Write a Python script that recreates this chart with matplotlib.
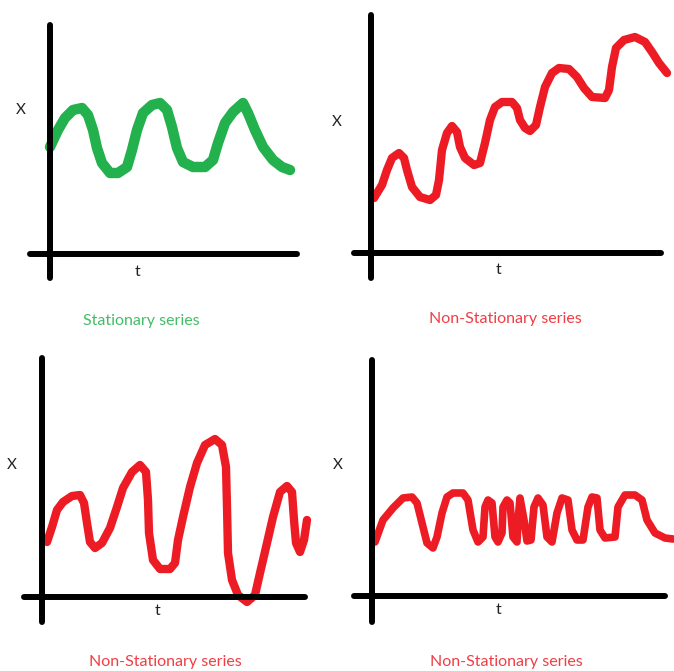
import numpy as np
import matplotlib
matplotlib.use("Agg")
import matplotlib.pyplot as plt

# hand-drawn sketches: t = time, v = value (1 unit ~ 1 px)
t_stat = [0, 8, 15, 23, 32, 38, 43, 47, 52, 60, 68, 77, 82, 87, 93, 102, 110, 117,
          122, 127, 133, 143, 155, 163, 168, 175, 183, 193, 198, 205, 213, 223,
          232, 240]
v_stat = [107, 124, 136, 144, 146, 139, 124, 106, 91, 81, 81, 87, 104, 124, 141,
          149, 151, 144, 127, 106, 92, 87, 87, 94, 111, 131, 142, 151, 141, 124,
          107, 94, 87, 84]

t_trend = [3, 11, 16, 21, 28, 33, 36, 41, 49, 59, 65, 68, 71, 76, 81, 86, 89, 94,
           103, 109, 114, 119, 124, 131, 141, 146, 149, 154, 159, 165, 169, 174,
           181, 188, 198, 206, 213, 221, 234, 238, 241, 245, 253, 264, 274, 281,
           288, 296]
v_trend = [55, 68, 83, 95, 100, 95, 83, 66, 56, 53, 58, 73, 103, 120, 127, 121, 106,
           95, 88, 90, 110, 133, 146, 151, 151, 145, 133, 125, 122, 128, 146, 166,
           180, 185, 184, 176, 165, 156, 155, 163, 186, 205, 213, 216, 211, 201,
           190, 180]

t_var = [5, 10, 15, 21, 30, 38, 42, 45, 48, 53, 60, 68, 75, 81, 90, 98, 104, 106,
         107, 111, 118, 128, 133, 136, 141, 148, 155, 163, 173, 180, 184, 185, 186,
         190, 196, 205, 213, 218, 225, 231, 238, 245, 250, 252, 254, 258, 262, 265]
v_var = [55, 70, 87, 95, 101, 102, 94, 74, 55, 49, 54, 69, 90, 109, 125, 132, 125,
         97, 64, 37, 28, 28, 34, 57, 80, 110, 134, 152, 158, 152, 130, 90, 44, 17,
         2, -5, 2, 24, 54, 80, 105, 111, 105, 77, 54, 45, 57, 77]

t_freq = [3, 11, 21, 31, 40, 45, 50, 55, 61, 65, 70, 75, 81, 91, 96, 101, 106, 111,
          113, 116, 120, 123, 126, 130, 131, 135, 138, 141, 145, 146, 148, 152, 155,
          159, 162, 166, 171, 175, 180, 185, 190, 196, 200, 205, 211, 216, 220, 225,
          228, 233, 243, 246, 253, 263, 270, 275, 283, 293, 301]
v_freq = [54, 76, 88, 98, 99, 93, 73, 53, 48, 59, 83, 99, 103, 103, 96, 66, 54, 59,
          89, 96, 93, 59, 54, 63, 89, 96, 93, 59, 54, 75, 98, 76, 55, 56, 89, 98, 91,
          59, 54, 83, 98, 96, 66, 56, 56, 89, 99, 98, 66, 58, 59, 89, 101, 101, 96,
          76, 63, 58, 57]

titles = ["Stationary series", "Non-Stationary series",
          "Non-Stationary series", "Non-Stationary series"]

GREEN = "#22b14c"
RED = "#ed1c24"

W, H = 674, 671
fig = plt.figure(figsize=(W / 100, H / 100), dpi=100)
fig.patch.set_facecolor("white")

# panel layout in pixels: origin (x, y) and axis extents
panels = [
    dict(o=(50, 254), xl=(-20, 247), yl=(-24, 229), t=t_stat, v=v_stat, c=GREEN, lw=7.5,
         X=(21, 110), T=(138, 272), title=(141, 321)),
    dict(o=(371, 253), xl=(-17, 290), yl=(-25, 238), t=t_trend, v=v_trend, c=RED, lw=6,
         X=(337, 122), T=(499, 270), title=(505, 319)),
    dict(o=(42, 597), xl=(-18, 263), yl=(-25, 239), t=t_var, v=v_var, c=RED, lw=6,
         X=(12, 465), T=(158, 611), title=(165, 662)),
    dict(o=(372, 596), xl=(-18, 293), yl=(-26, 236), t=t_freq, v=v_freq, c=RED, lw=5.5,
         X=(338, 465), T=(499, 610), title=(506, 662)),
]

for p, title in zip(panels, titles):
    ox, oy = p["o"]
    x0, x1 = p["xl"]
    y0, y1 = p["yl"]
    ax = fig.add_axes([(ox + x0) / W, (H - (oy - y0)) / H, (x1 - x0) / W, (y1 - y0) / H])
    ax.set_xlim(x0, x1)
    ax.set_ylim(y0, y1)
    ax.patch.set_alpha(0)
    for s in ["top", "right"]:
        ax.spines[s].set_visible(False)
    for s in ["left", "bottom"]:
        ax.spines[s].set_position(("data", 0))
        ax.spines[s].set_linewidth(4.3)
        ax.spines[s].set_capstyle("round")
    ax.set_xticks([])
    ax.set_yticks([])
    ax.plot(p["t"], p["v"], color=p["c"], lw=p["lw"], solid_capstyle="round",
            solid_joinstyle="round", clip_on=False)

    fig.text(p["X"][0] / W, 1 - p["X"][1] / H, "X", fontsize=11, family="Lato",
             ha="center", va="center", color="#222222")
    fig.text(p["T"][0] / W, 1 - p["T"][1] / H, "t", fontsize=11.5, family="Lato",
             ha="center", va="center", color="#222222")
    fig.text(p["title"][0] / W, 1 - p["title"][1] / H, title, fontsize=11.5,
             family="Lato", ha="center", va="center", color=p["c"], alpha=0.85)

fig.savefig("out.png", dpi=100)
